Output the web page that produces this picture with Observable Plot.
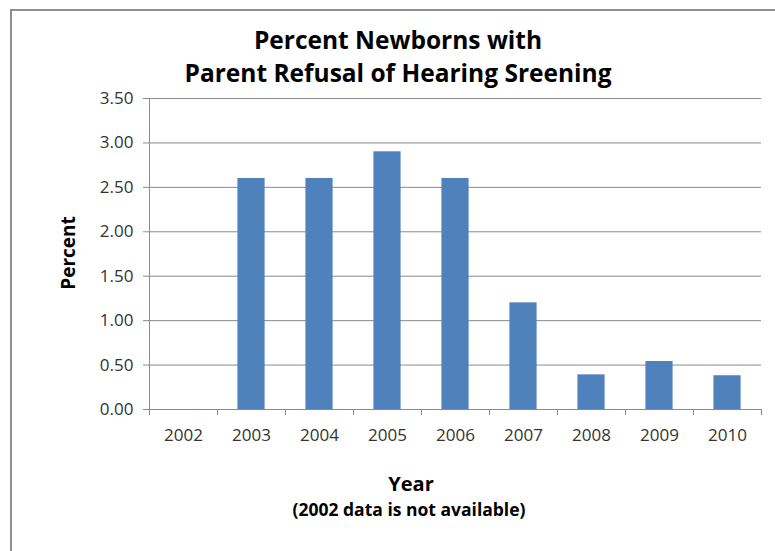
<!DOCTYPE html>
<html>
<head>
<meta charset="utf-8">
<script src="https://cdn.jsdelivr.net/npm/d3@7"></script>
<script src="https://cdn.jsdelivr.net/npm/@observablehq/plot@0.6"></script>
<style>
  html, body { margin: 0; padding: 0; background: #fff; }
  #wrap { position: relative; width: 775px; height: 551px; overflow: hidden; font-family: "Open Sans", Lato, sans-serif; }
  #border { position: absolute; left: 10px; top: 9px; width: 800px; height: 600px; border: 2px solid #8e8e8e; box-sizing: border-box; }
  #chart { position: absolute; left: 0; top: 0; }
  .t { position: absolute; white-space: nowrap; font-weight: bold; color: #000; text-align: center; transform: translateX(-50%); }
</style>
</head>
<body>
<div id="wrap">
  <div id="border"></div>
  <div id="chart"></div>
  <div class="t" style="left:398px; top:23px; font-size:24.5px; line-height:33px;">Percent Newborns with<br>Parent Refusal of Hearing Sreening</div>
  <div class="t" style="left:411px; top:470px; font-size:20px;">Year</div>
  <div class="t" style="left:409px; top:497px; font-size:17.5px;">(2002 data is not available)</div>
  <div class="t" style="left:68px; top:253px; font-size:19px; transform: translate(-50%,-50%) rotate(-90deg);">Percent</div>
</div>
<script>
const years = [2002, 2003, 2004, 2005, 2006, 2007, 2008, 2009, 2010];
const values = [null, 2.60, 2.60, 2.90, 2.60, 1.20, 0.39, 0.54, 0.38];
const yTicks = [0, 0.5, 1.0, 1.5, 2.0, 2.5, 3.0, 3.5];
const boundaries = [2001.5, 2002.5, 2003.5, 2004.5, 2005.5, 2006.5, 2007.5, 2008.5, 2009.5, 2010.5];

const data = years.map((y, i) => ({year: y, value: values[i]})).filter(d => d.value != null);

const chart = Plot.plot({
  width: 775,
  height: 551,
  marginTop: 98,
  marginBottom: 142,
  marginLeft: 149,
  marginRight: 14,
  style: {fontFamily: "'Open Sans', Lato, sans-serif", fontSize: "17px", color: "#333", background: "transparent"},
  x: {domain: [2001.5, 2010.5], axis: null},
  y: {domain: [0, 3.5], axis: null},
  marks: [
    Plot.ruleY(yTicks.filter(d => d > 0), {stroke: "#8a8a8a", strokeWidth: 1}),
    Plot.rectY(data, {x1: d => d.year - 0.2, x2: d => d.year + 0.2, y: "value", fill: "#4f81bd"}),
    Plot.axisY({ticks: yTicks, tickFormat: d3.format(".2f"), tickSize: 6, tickPadding: 10, stroke: "#8a8a8a", fill: "#333", fontSize: 17, label: null}),
    Plot.ruleX([2001.5], {stroke: "#8a8a8a"}),
    Plot.ruleY([0], {stroke: "#8a8a8a"}),
    Plot.axisX({ticks: boundaries, tickFormat: () => "", tickSize: 6, stroke: "#8a8a8a", label: null}),
    Plot.axisX({ticks: years, tickFormat: d => String(d), tickSize: 0, tickPadding: 19, fill: "#333", fontSize: 17, label: null})
  ]
});
document.getElementById("chart").appendChild(chart);
</script>
</body>
</html>
